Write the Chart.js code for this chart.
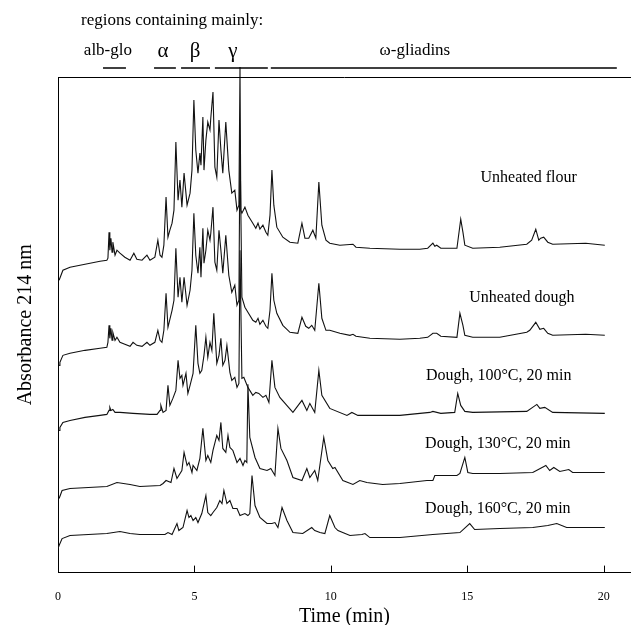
<!DOCTYPE html>
<html>
<head>
<meta charset="utf-8">
<script src="https://cdn.jsdelivr.net/npm/chart.js@4.4.1/dist/chart.umd.min.js"></script>
<style>
  html, body { margin: 0; padding: 0; background: #fff; }
</style>
</head>
<body>
<canvas id="chart" width="631" height="625"></canvas>
<script>
// time in min / absorbance (arbitrary units, traces stacked)
const tickValues = [0, 5, 10, 15, 20];
const traceNames = ['Unheated flour', 'Unheated dough', 'Dough, 100°C, 20 min', 'Dough, 130°C, 20 min', 'Dough, 160°C, 20 min'];
const regionNames = ['alb-glo', 'α', 'β', 'γ', 'ω-gliadins'];
const regionStart = [1.65, 3.52, 4.51, 5.75, 7.8];
const regionEnd = [2.49, 4.32, 5.57, 7.69, 20.48];

const timeFlour = [0.04, 0.11, 0.18, 0.44, 0.99, 1.54, 1.79, 1.83, 1.87, 1.90, 1.94, 1.98, 2.01, 2.09, 2.16, 2.27, 2.45, 2.64, 2.78, 2.89, 3.08, 3.26, 3.37, 3.55, 3.66, 3.74, 3.81, 3.88, 3.96, 4.03, 4.10, 4.18, 4.25, 4.32, 4.40, 4.47, 4.54, 4.62, 4.73, 4.84, 4.91, 4.98, 5.05, 5.13, 5.20, 5.24, 5.31, 5.35, 5.42, 5.49, 5.57, 5.60, 5.68, 5.75, 5.82, 5.90, 5.97, 6.04, 6.15, 6.26, 6.37, 6.48, 6.56, 6.63, 6.67, 6.70, 6.74, 6.85, 6.96, 7.14, 7.25, 7.33, 7.40, 7.51, 7.62, 7.69, 7.77, 7.84, 7.91, 8.02, 8.24, 8.50, 8.79, 8.94, 9.05, 9.19, 9.34, 9.45, 9.56, 9.67, 9.82, 9.96, 10.33, 10.81, 10.92, 11.43, 12.53, 13.26, 13.55, 13.74, 13.81, 13.88, 14.03, 14.62, 14.76, 14.84, 14.91, 15.20, 16.19, 17.18, 17.36, 17.51, 17.62, 17.69, 17.80, 17.95, 18.13, 19.34, 20.04];
const absFlour = [292, 297, 302, 305, 308, 311, 312, 314, 340, 322, 334, 320, 330, 317, 322, 319, 315, 312, 319, 313, 312, 317, 312, 315, 332, 317, 315, 327, 375, 335, 342, 349, 362, 430, 372, 392, 365, 399, 367, 379, 402, 472, 422, 399, 419, 407, 455, 402, 432, 450, 442, 454, 480, 405, 395, 452, 422, 399, 450, 402, 379, 382, 362, 367, 505, 362, 359, 365, 357, 349, 344, 349, 343, 347, 340, 337, 357, 402, 367, 345, 335, 330, 329, 349, 334, 334, 342, 334, 390, 347, 332, 329, 327, 328, 325, 324, 323, 323, 324, 329, 326, 327, 324, 324, 353, 340, 327, 324, 325, 328, 332, 343, 332, 334, 335, 330, 328, 329, 327];

const timeDough = [0.04, 0.07, 0.18, 0.44, 0.99, 1.54, 1.79, 1.83, 1.87, 1.90, 1.94, 1.98, 2.01, 2.09, 2.16, 2.27, 2.45, 2.64, 2.75, 2.89, 3.08, 3.26, 3.37, 3.55, 3.66, 3.74, 3.81, 3.88, 3.96, 4.03, 4.18, 4.25, 4.32, 4.40, 4.47, 4.54, 4.62, 4.73, 4.84, 4.91, 4.98, 5.05, 5.13, 5.20, 5.24, 5.31, 5.35, 5.42, 5.49, 5.57, 5.60, 5.68, 5.75, 5.82, 5.90, 5.97, 6.04, 6.15, 6.26, 6.37, 6.48, 6.56, 6.63, 6.67, 6.74, 6.85, 6.96, 7.14, 7.25, 7.33, 7.40, 7.51, 7.62, 7.69, 7.77, 7.84, 7.91, 8.02, 8.24, 8.50, 8.79, 8.94, 9.08, 9.19, 9.30, 9.41, 9.56, 9.67, 9.82, 9.96, 10.33, 10.70, 10.81, 10.92, 11.43, 12.53, 13.26, 13.55, 13.74, 13.88, 14.03, 14.62, 14.73, 14.84, 14.91, 15.20, 16.19, 17.18, 17.29, 17.51, 17.66, 17.80, 17.95, 18.13, 19.34, 20.04];
const absDough = [207, 210, 217, 219, 222, 224, 225, 230, 247, 234, 244, 232, 240, 232, 235, 230, 228, 226, 230, 227, 226, 230, 227, 230, 242, 232, 230, 242, 279, 245, 262, 272, 324, 275, 295, 270, 295, 267, 282, 302, 359, 317, 299, 325, 295, 344, 309, 322, 342, 332, 339, 365, 310, 302, 342, 322, 299, 337, 297, 280, 287, 267, 272, 432, 275, 265, 260, 252, 250, 254, 248, 252, 246, 244, 262, 299, 272, 259, 247, 240, 239, 255, 246, 244, 247, 242, 289, 254, 242, 242, 239, 237, 238, 236, 234, 233, 234, 235, 239, 239, 236, 235, 259, 247, 237, 235, 235, 240, 242, 250, 243, 244, 239, 237, 238, 237];

const time100 = [0.04, 0.07, 0.18, 0.44, 0.99, 1.54, 1.79, 1.87, 1.90, 1.94, 2.01, 2.09, 2.27, 2.75, 3.37, 3.63, 3.74, 3.77, 3.85, 3.96, 4.03, 4.10, 4.21, 4.32, 4.40, 4.47, 4.54, 4.58, 4.69, 4.76, 4.84, 4.95, 5.05, 5.13, 5.20, 5.27, 5.35, 5.42, 5.49, 5.57, 5.64, 5.71, 5.82, 5.90, 5.97, 6.04, 6.12, 6.19, 6.30, 6.37, 6.48, 6.56, 6.63, 6.67, 6.74, 6.81, 6.96, 7.14, 7.25, 7.36, 7.51, 7.62, 7.73, 7.84, 7.95, 8.13, 8.61, 8.94, 9.12, 9.23, 9.41, 9.56, 9.67, 9.96, 10.59, 10.77, 10.99, 12.53, 13.63, 13.74, 14.03, 14.54, 14.65, 14.76, 14.91, 15.20, 17.18, 17.55, 17.66, 17.84, 18.13, 20.04];
const abs100 = [142, 145, 150, 152, 155, 157, 158, 162, 165, 162, 163, 160, 160, 159, 158, 158, 162, 167, 160, 162, 187, 167, 174, 182, 212, 194, 197, 187, 199, 179, 187, 199, 247, 209, 199, 202, 217, 235, 215, 230, 222, 259, 209, 217, 234, 207, 212, 227, 200, 192, 195, 185, 189, 322, 194, 195, 185, 177, 180, 179, 175, 177, 170, 212, 185, 175, 160, 172, 162, 169, 160, 202, 177, 164, 157, 160, 157, 157, 160, 161, 159, 160, 179, 167, 161, 160, 161, 168, 164, 165, 160, 159];

const time130 = [0.04, 0.15, 0.44, 1.79, 2.16, 2.64, 3.00, 3.74, 3.85, 3.96, 4.14, 4.25, 4.36, 4.54, 4.62, 4.73, 4.80, 4.91, 4.95, 5.09, 5.20, 5.31, 5.42, 5.49, 5.60, 5.68, 5.82, 5.90, 5.97, 6.04, 6.15, 6.23, 6.30, 6.41, 6.56, 6.67, 6.78, 6.85, 6.92, 6.96, 7.03, 7.22, 7.40, 7.66, 7.80, 7.95, 8.06, 8.17, 8.39, 8.61, 8.94, 9.12, 9.23, 9.41, 9.52, 9.74, 9.89, 10.07, 10.15, 10.44, 10.81, 11.06, 11.32, 11.90, 12.53, 13.52, 13.74, 13.81, 14.07, 14.62, 14.73, 14.91, 15.02, 15.20, 15.71, 16.19, 17.40, 17.88, 18.02, 18.17, 18.39, 18.72, 18.86, 20.04];
const abs130 = [74, 82, 84, 86, 90, 88, 86, 87, 89, 92, 90, 104, 94, 102, 120, 107, 110, 100, 107, 102, 114, 144, 112, 117, 110, 122, 137, 132, 150, 124, 120, 137, 125, 122, 110, 114, 107, 112, 110, 188, 135, 115, 104, 102, 104, 97, 144, 124, 112, 95, 92, 104, 95, 102, 92, 135, 112, 104, 105, 92, 88, 92, 90, 88, 89, 92, 92, 97, 97, 97, 99, 115, 100, 99, 99, 99, 100, 107, 102, 105, 101, 103, 100, 100];

const time160 = [0.00, 0.04, 0.15, 0.44, 1.79, 2.27, 2.64, 3.00, 3.92, 4.03, 4.18, 4.36, 4.43, 4.58, 4.73, 4.80, 4.87, 4.95, 5.05, 5.13, 5.27, 5.42, 5.49, 5.60, 5.68, 5.82, 5.93, 6.01, 6.08, 6.19, 6.30, 6.41, 6.56, 6.67, 6.85, 6.96, 7.03, 7.11, 7.22, 7.40, 7.66, 7.84, 7.95, 8.06, 8.21, 8.39, 8.61, 8.97, 9.30, 9.41, 9.60, 9.78, 9.96, 10.15, 10.26, 10.70, 11.14, 11.25, 11.43, 12.53, 13.74, 14.73, 15.09, 15.27, 16.19, 17.40, 17.95, 18.28, 18.64, 19.01, 20.04];
const abs160 = [24, 27, 34, 37, 39, 41, 39, 38, 38, 40, 38, 49, 42, 45, 62, 55, 57, 52, 55, 50, 59, 77, 60, 57, 60, 65, 72, 69, 82, 69, 72, 64, 64, 57, 59, 57, 59, 97, 67, 55, 49, 49, 50, 45, 65, 52, 40, 39, 45, 42, 40, 39, 57, 45, 42, 37, 38, 39, 35, 35, 38, 40, 49, 43, 44, 45, 47, 49, 45, 45, 45];

// where the annotation texts sit (data units)
const regionLabelAt = [1.83, 3.85, 5.02, 6.41, 13.08];
const traceLabelTime = [17.25, 17.0, 16.15, 16.12, 16.12];
const traceLabelAbs = [394, 274, 197, 129, 64];

const serif = "'Liberation Serif', 'Times New Roman', serif";
const series = [
  [timeFlour, absFlour],
  [timeDough, absDough],
  [time100, abs100],
  [time130, abs130],
  [time160, abs160]
];

const decor = {
  id: 'decor',
  afterDraw(chart) {
    const { ctx, chartArea: a, scales: { x, y } } = chart;
    ctx.save();
    ctx.strokeStyle = '#000';
    ctx.lineWidth = 1;
    ctx.beginPath();
    ctx.moveTo(a.left, a.top + 0.5);
    ctx.lineTo(a.right, a.top + 0.5);
    tickValues.forEach(v => {
      const px = Math.round(x.getPixelForValue(v)) + 0.5;
      ctx.moveTo(px, a.bottom);
      ctx.lineTo(px, a.bottom - 7);
    });
    ctx.stroke();

    ctx.fillStyle = '#000';
    ctx.textBaseline = 'middle';
    ctx.textAlign = 'left';
    ctx.font = '17px ' + serif;
    ctx.fillText('regions containing mainly:', 81, 21);

    ctx.lineWidth = 1.5;
    ctx.textAlign = 'center';
    regionNames.forEach((name, i) => {
      ctx.beginPath();
      ctx.moveTo(x.getPixelForValue(regionStart[i]), a.top - 9);
      ctx.lineTo(x.getPixelForValue(regionEnd[i]), a.top - 9);
      ctx.stroke();
      ctx.font = (name.length === 1 ? '21px ' : '17px ') + serif;
      ctx.fillText(name, x.getPixelForValue(regionLabelAt[i]), 51);
    });

    ctx.font = '16px ' + serif;
    traceNames.forEach((n, i) => {
      ctx.fillText(n, x.getPixelForValue(traceLabelTime[i]), y.getPixelForValue(traceLabelAbs[i]));
    });
    ctx.restore();
  }
};

new Chart(document.getElementById('chart').getContext('2d'), {
  type: 'line',
  data: {
    datasets: series.map(([t, v], i) => ({
      label: traceNames[i],
      data: t.map((tt, k) => ({ x: tt, y: v[k] })),
      borderColor: '#111',
      borderWidth: 1.1,
      pointRadius: 0,
      tension: 0,
      fill: false,
      clip: i === 0 ? false : undefined
    }))
  },
  options: {
    responsive: false,
    animation: false,
    layout: { padding: { top: 77, left: 14, right: 0, bottom: 0 } },
    plugins: { legend: { display: false }, tooltip: { enabled: false } },
    scales: {
      x: {
        type: 'linear',
        min: 0,
        max: 21,
        afterBuildTicks: s => { s.ticks = tickValues.map(v => ({ value: v })); },
        grid: { display: false, drawTicks: false },
        border: { display: true, color: '#000', width: 1 },
        ticks: { color: '#000', font: { family: serif, size: 12 }, padding: 17, maxRotation: 0, autoSkip: false },
        title: { display: true, text: 'Time (min)', color: '#000', font: { family: serif, size: 20 }, padding: { top: -16, bottom: -4 } }
      },
      y: {
        min: 0,
        max: 495,
        grid: { display: false, drawTicks: false },
        border: { display: true, color: '#000', width: 1 },
        ticks: { display: false },
        title: { display: true, text: 'Absorbance 214 nm', color: '#000', font: { family: serif, size: 20 }, padding: { top: 0, bottom: 20 } }
      }
    }
  },
  plugins: [decor]
});
</script>
</body>
</html>
